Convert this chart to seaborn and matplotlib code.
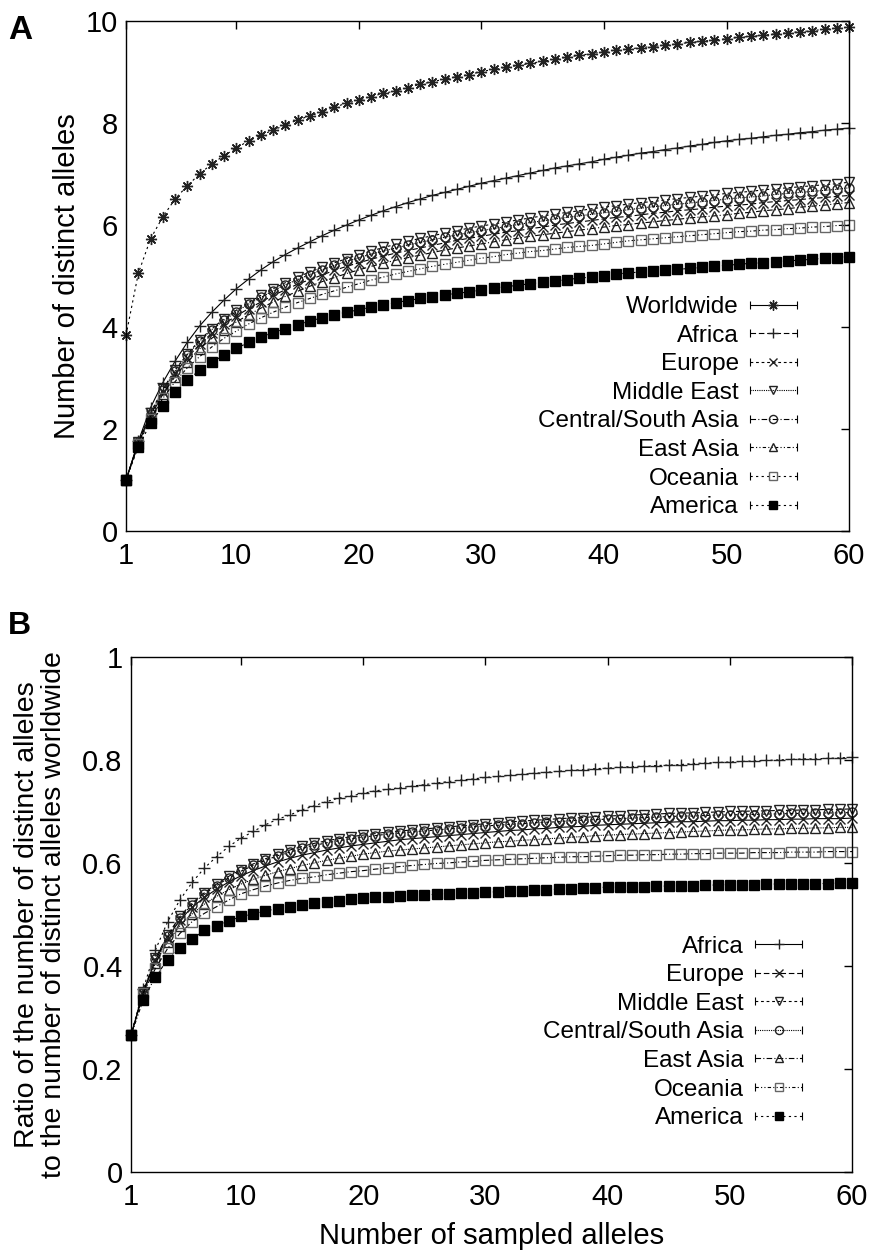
import numpy as np
import pandas as pd
import matplotlib
matplotlib.use("Agg")
import matplotlib.pyplot as plt
import seaborn as sns
from matplotlib.lines import Line2D
from matplotlib.legend_handler import HandlerLine2D, HandlerTuple

# Data
sample_sizes = list(range(1, 61))
x_ticks = [1, 10, 20, 30, 40, 50, 60]

# Panel A: number of distinct alleles
ww_a = [3.84, 5.05, 5.73, 6.16, 6.51, 6.77, 7.00, 7.20, 7.36, 7.51,
        7.65, 7.76, 7.86, 7.96, 8.06, 8.14, 8.22, 8.31, 8.39, 8.45,
        8.52, 8.58, 8.63, 8.69, 8.76, 8.81, 8.86, 8.91, 8.95, 9.01,
        9.05, 9.09, 9.13, 9.17, 9.21, 9.25, 9.29, 9.33, 9.36, 9.40,
        9.43, 9.45, 9.48, 9.50, 9.53, 9.55, 9.58, 9.60, 9.63, 9.65,
        9.68, 9.70, 9.72, 9.75, 9.77, 9.79, 9.81, 9.84, 9.86, 9.88]
africa_a = [1.00, 1.76, 2.42, 2.91, 3.33, 3.70, 4.02, 4.29, 4.53, 4.75,
            4.94, 5.12, 5.28, 5.42, 5.55, 5.67, 5.79, 5.90, 6.00, 6.10,
            6.19, 6.28, 6.36, 6.44, 6.51, 6.58, 6.64, 6.70, 6.76, 6.82,
            6.87, 6.92, 6.97, 7.02, 7.07, 7.12, 7.16, 7.20, 7.24, 7.29,
            7.33, 7.37, 7.41, 7.44, 7.48, 7.51, 7.55, 7.58, 7.62, 7.65,
            7.68, 7.70, 7.73, 7.76, 7.78, 7.81, 7.83, 7.86, 7.88, 7.90]
europe_a = [1.00, 1.73, 2.28, 2.73, 3.10, 3.40, 3.66, 3.88, 4.06, 4.22,
            4.36, 4.49, 4.62, 4.73, 4.84, 4.93, 5.02, 5.11, 5.19, 5.26,
            5.33, 5.39, 5.45, 5.50, 5.55, 5.60, 5.65, 5.70, 5.74, 5.78,
            5.82, 5.86, 5.89, 5.93, 5.96, 6.00, 6.03, 6.06, 6.09, 6.12,
            6.15, 6.17, 6.20, 6.23, 6.25, 6.28, 6.30, 6.32, 6.35, 6.37,
            6.39, 6.41, 6.44, 6.46, 6.48, 6.50, 6.52, 6.54, 6.56, 6.58]
mideast_a = [1.00, 1.75, 2.32, 2.78, 3.16, 3.47, 3.74, 3.97, 4.16, 4.33,
             4.48, 4.62, 4.75, 4.87, 4.98, 5.08, 5.17, 5.26, 5.34, 5.42,
             5.49, 5.56, 5.62, 5.68, 5.74, 5.79, 5.84, 5.89, 5.94, 5.98,
             6.02, 6.06, 6.10, 6.14, 6.18, 6.21, 6.25, 6.28, 6.32, 6.35,
             6.38, 6.41, 6.44, 6.46, 6.49, 6.52, 6.54, 6.57, 6.59, 6.62,
             6.64, 6.66, 6.69, 6.71, 6.73, 6.75, 6.77, 6.79, 6.81, 6.84]
csasia_a = [1.00, 1.74, 2.30, 2.76, 3.14, 3.45, 3.72, 3.95, 4.13, 4.30,
            4.45, 4.58, 4.71, 4.83, 4.93, 5.03, 5.12, 5.21, 5.29, 5.36,
            5.43, 5.49, 5.55, 5.61, 5.66, 5.71, 5.76, 5.81, 5.85, 5.89,
            5.93, 5.97, 6.01, 6.05, 6.08, 6.12, 6.15, 6.18, 6.21, 6.24,
            6.27, 6.30, 6.33, 6.36, 6.38, 6.41, 6.43, 6.46, 6.48, 6.51,
            6.53, 6.55, 6.57, 6.60, 6.62, 6.64, 6.66, 6.68, 6.70, 6.73]
eastasia_a = [1.00, 1.72, 2.25, 2.68, 3.03, 3.32, 3.57, 3.78, 3.95, 4.10,
              4.24, 4.37, 4.49, 4.60, 4.70, 4.80, 4.89, 4.97, 5.05, 5.12,
              5.19, 5.25, 5.31, 5.36, 5.41, 5.46, 5.51, 5.55, 5.59, 5.63,
              5.67, 5.71, 5.74, 5.78, 5.81, 5.84, 5.87, 5.90, 5.93, 5.96,
              5.99, 6.01, 6.04, 6.06, 6.09, 6.11, 6.14, 6.16, 6.18, 6.20,
              6.23, 6.25, 6.28, 6.30, 6.32, 6.35, 6.37, 6.39, 6.42, 6.44]
oceania_a = [1.00, 1.70, 2.20, 2.60, 2.93, 3.20, 3.42, 3.61, 3.78, 3.92,
             4.06, 4.18, 4.29, 4.39, 4.48, 4.56, 4.64, 4.71, 4.78, 4.85,
             4.92, 4.98, 5.04, 5.09, 5.14, 5.19, 5.23, 5.27, 5.31, 5.35,
             5.38, 5.42, 5.45, 5.48, 5.50, 5.53, 5.56, 5.58, 5.60, 5.63,
             5.66, 5.69, 5.71, 5.73, 5.75, 5.77, 5.79, 5.81, 5.83, 5.85,
             5.87, 5.88, 5.90, 5.91, 5.93, 5.94, 5.96, 5.97, 5.99, 6.00]
america_a = [1.00, 1.65, 2.11, 2.45, 2.73, 2.96, 3.15, 3.31, 3.45, 3.58,
             3.70, 3.80, 3.89, 3.97, 4.04, 4.12, 4.18, 4.24, 4.29, 4.34,
             4.39, 4.43, 4.48, 4.52, 4.56, 4.59, 4.63, 4.66, 4.69, 4.73,
             4.76, 4.79, 4.82, 4.85, 4.88, 4.90, 4.93, 4.96, 4.98, 5.01,
             5.04, 5.06, 5.08, 5.10, 5.12, 5.13, 5.15, 5.17, 5.19, 5.21,
             5.23, 5.25, 5.26, 5.28, 5.30, 5.31, 5.33, 5.35, 5.36, 5.38]

# Panel B: ratio to the worldwide number of distinct alleles
africa_b = [0.265, 0.355, 0.431, 0.486, 0.528, 0.562, 0.590, 0.612, 0.632, 0.648,
            0.661, 0.674, 0.685, 0.693, 0.703, 0.711, 0.719, 0.726, 0.730, 0.735,
            0.740, 0.743, 0.746, 0.749, 0.752, 0.755, 0.758, 0.761, 0.763, 0.766,
            0.768, 0.770, 0.772, 0.774, 0.776, 0.778, 0.780, 0.781, 0.783, 0.784,
            0.786, 0.787, 0.788, 0.789, 0.790, 0.791, 0.793, 0.794, 0.795, 0.796,
            0.797, 0.798, 0.799, 0.800, 0.801, 0.802, 0.802, 0.803, 0.804, 0.805]
europe_b = [0.265, 0.348, 0.411, 0.455, 0.489, 0.514, 0.533, 0.549, 0.563, 0.575,
            0.585, 0.594, 0.602, 0.609, 0.615, 0.620, 0.625, 0.629, 0.633, 0.636,
            0.639, 0.642, 0.645, 0.647, 0.649, 0.651, 0.653, 0.655, 0.657, 0.659,
            0.661, 0.663, 0.664, 0.666, 0.667, 0.669, 0.670, 0.671, 0.673, 0.674,
            0.675, 0.676, 0.677, 0.678, 0.679, 0.680, 0.680, 0.681, 0.682, 0.682,
            0.683, 0.683, 0.684, 0.684, 0.685, 0.685, 0.686, 0.686, 0.686, 0.687]
mideast_b = [0.265, 0.350, 0.415, 0.460, 0.496, 0.522, 0.542, 0.559, 0.574, 0.587,
             0.598, 0.608, 0.617, 0.625, 0.632, 0.638, 0.643, 0.647, 0.651, 0.654,
             0.657, 0.660, 0.662, 0.664, 0.666, 0.668, 0.670, 0.672, 0.674, 0.676,
             0.678, 0.680, 0.681, 0.683, 0.684, 0.686, 0.687, 0.688, 0.690, 0.691,
             0.692, 0.693, 0.694, 0.695, 0.696, 0.697, 0.697, 0.698, 0.699, 0.700,
             0.700, 0.701, 0.701, 0.702, 0.702, 0.703, 0.703, 0.704, 0.704, 0.705]
csasia_b = [0.265, 0.349, 0.413, 0.458, 0.493, 0.519, 0.539, 0.556, 0.571, 0.584,
            0.595, 0.605, 0.614, 0.621, 0.628, 0.634, 0.639, 0.643, 0.647, 0.650,
            0.653, 0.656, 0.658, 0.660, 0.662, 0.664, 0.666, 0.668, 0.670, 0.672,
            0.673, 0.675, 0.676, 0.678, 0.679, 0.680, 0.682, 0.683, 0.684, 0.685,
            0.686, 0.687, 0.688, 0.689, 0.690, 0.691, 0.691, 0.692, 0.693, 0.693,
            0.694, 0.694, 0.695, 0.695, 0.696, 0.696, 0.697, 0.697, 0.697, 0.698]
eastasia_b = [0.265, 0.345, 0.405, 0.447, 0.478, 0.501, 0.520, 0.535, 0.548, 0.559,
              0.568, 0.576, 0.583, 0.589, 0.595, 0.600, 0.605, 0.609, 0.613, 0.617,
              0.620, 0.623, 0.625, 0.627, 0.629, 0.631, 0.633, 0.635, 0.637, 0.639,
              0.641, 0.642, 0.644, 0.645, 0.647, 0.648, 0.650, 0.651, 0.653, 0.654,
              0.655, 0.656, 0.657, 0.658, 0.659, 0.660, 0.661, 0.662, 0.663, 0.664,
              0.664, 0.665, 0.666, 0.666, 0.667, 0.667, 0.668, 0.668, 0.669, 0.669]
oceania_b = [0.265, 0.347, 0.395, 0.434, 0.463, 0.486, 0.502, 0.515, 0.528, 0.540,
             0.548, 0.555, 0.561, 0.566, 0.570, 0.573, 0.577, 0.580, 0.583, 0.585,
             0.588, 0.590, 0.593, 0.595, 0.597, 0.599, 0.600, 0.602, 0.603, 0.605,
             0.606, 0.607, 0.608, 0.609, 0.610, 0.611, 0.612, 0.612, 0.613, 0.614,
             0.615, 0.615, 0.616, 0.616, 0.617, 0.617, 0.618, 0.618, 0.619, 0.619,
             0.619, 0.620, 0.620, 0.620, 0.621, 0.621, 0.621, 0.622, 0.622, 0.622]
america_b = [0.265, 0.334, 0.379, 0.412, 0.434, 0.452, 0.469, 0.478, 0.487, 0.496,
             0.501, 0.507, 0.511, 0.515, 0.518, 0.522, 0.525, 0.527, 0.529, 0.531,
             0.533, 0.534, 0.536, 0.537, 0.538, 0.539, 0.540, 0.541, 0.542, 0.543,
             0.544, 0.545, 0.546, 0.547, 0.548, 0.549, 0.550, 0.551, 0.552, 0.553,
             0.553, 0.554, 0.554, 0.555, 0.555, 0.556, 0.556, 0.557, 0.557, 0.558,
             0.558, 0.558, 0.559, 0.559, 0.559, 0.560, 0.560, 0.560, 0.561, 0.561]

labels_a = ["Worldwide", "Africa", "Europe", "Middle East",
            "Central/South Asia", "East Asia", "Oceania", "America"]
series_a = [ww_a, africa_a, europe_a, mideast_a, csasia_a, eastasia_a, oceania_a, america_a]
labels_b = labels_a[1:]
series_b = [africa_b, europe_b, mideast_b, csasia_b, eastasia_b, oceania_b, america_b]

# gnuplot-like line types (legend order)
line_types = ["-", (0, (5, 2.5)), (0, (2.5, 2.5)), (0, (1, 1)),
              (0, (5, 2, 1, 2)), (0, (3, 2, 1, 2, 1, 2)), (0, (2, 3)), (0, (2, 3))]
marker_style = {
    "Worldwide": dict(marker=(8, 2, 0), mfc="#222222", mec="#222222", ms=8),
    "Africa": dict(marker="+", mfc="#222222", mec="#222222", ms=8),
    "Europe": dict(marker="x", mfc="#222222", mec="#222222", ms=6.5),
    "Middle East": dict(marker="v", mfc="none", mec="#222222", ms=6.5),
    "Central/South Asia": dict(marker="o", mfc="none", mec="#222222", ms=6.5),
    "East Asia": dict(marker="^", mfc="none", mec="#222222", ms=6.5),
    "Oceania": dict(marker="s", mfc="none", mec="#666666", ms=6.5),
    "America": dict(marker="s", mfc="black", mec="black", ms=6.5),
}

sns.set_theme(style="white")
plt.rcParams['font.family'] = ['Liberation Sans', 'DejaVu Sans']
plt.rcParams['axes.linewidth'] = 1.0
plt.rcParams['text.color'] = 'black'
plt.rcParams['axes.labelcolor'] = 'black'
plt.rcParams['xtick.color'] = 'black'
plt.rcParams['ytick.color'] = 'black'
FS_TICK = 21
FS_LAB = 21
FS_LEG = 17.5

fig = plt.figure(figsize=(8.71, 12.51), dpi=100)
ax_a = fig.add_axes([0.1447, 0.5755, 0.8301, 0.4077])
ax_b = fig.add_axes([0.1504, 0.0632, 0.8278, 0.4117])


def draw_panel(ax, labels, series, leg_anchor):
    n = len(labels)
    handles = []
    hmap = {tuple: HandlerTuple(ndivide=1, pad=0)}
    for i, (lab, vals) in enumerate(zip(labels, series)):
        ms = marker_style[lab]
        df = pd.DataFrame({"n": sample_sizes, "v": vals})
        # plotted line uses the previous line type (as in the original figure)
        sns.lineplot(data=df, x="n", y="v", ax=ax, color="black", lw=0.8,
                     linestyle=line_types[(i - 1) % n], marker=ms["marker"],
                     mfc=ms["mfc"], mec=ms["mec"], ms=ms["ms"], mew=1.0,
                     clip_on=False, errorbar=None, legend=False)
        main = Line2D([], [], color="black", lw=0.8, linestyle=line_types[i],
                      marker=ms["marker"], mfc=ms["mfc"], mec=ms["mec"],
                      ms=ms["ms"] * 0.9, mew=1.0)
        caps = Line2D([], [], color="black", ls="none", marker="|", ms=6, mew=0.8)
        hmap[caps] = HandlerLine2D(numpoints=2, marker_pad=0)
        handles.append((main, caps))

    ax.legend(handles, labels, handler_map=hmap, loc="center right",
              bbox_to_anchor=leg_anchor, frameon=False, markerfirst=False,
              numpoints=1, handlelength=1.95, handletextpad=0.45,
              labelspacing=0.27, borderpad=0, borderaxespad=0, fontsize=FS_LEG,
              labelcolor="black")

    ax.set_xlim(1, 60)
    ax.set_xticks(x_ticks)
    ax.tick_params(direction="in", length=6, width=1, top=True, right=True,
                   labelsize=FS_TICK, colors="black")
    ax.tick_params(axis="y", pad=6)
    ax.tick_params(axis="x", pad=8)
    for sp in ax.spines.values():
        sp.set_color("black")
        sp.set_linewidth(1.0)
    ax.set_xlabel("")
    ax.set_ylabel("")


draw_panel(ax_a, labels_a, series_a, (0.928, 0.243))
ax_a.set_ylim(0, 10)
ax_a.set_yticks([0, 2, 4, 6, 8, 10])
ax_a.set_ylabel("Number of distinct alleles", fontsize=FS_LAB, labelpad=3)

draw_panel(ax_b, labels_b, series_b, (0.931, 0.271))
ax_b.set_ylim(0, 1)
ax_b.set_yticks([0, 0.2, 0.4, 0.6, 0.8, 1.0])
ax_b.set_yticklabels(["0", "0.2", "0.4", "0.6", "0.8", "1"])
ax_b.set_ylabel("Ratio of the number of distinct alleles\nto the number of distinct alleles worldwide",
                fontsize=20.5, labelpad=11, linespacing=1.05)
ax_b.set_xlabel("Number of sampled alleles", fontsize=FS_LAB, labelpad=8)

fig.text(0.009, 0.988, "A", fontsize=24, fontweight="bold", va="top", ha="left")
fig.text(0.009, 0.5115, "B", fontsize=23, fontweight="bold", va="top", ha="left")

fig.savefig("out.png", dpi=100)
